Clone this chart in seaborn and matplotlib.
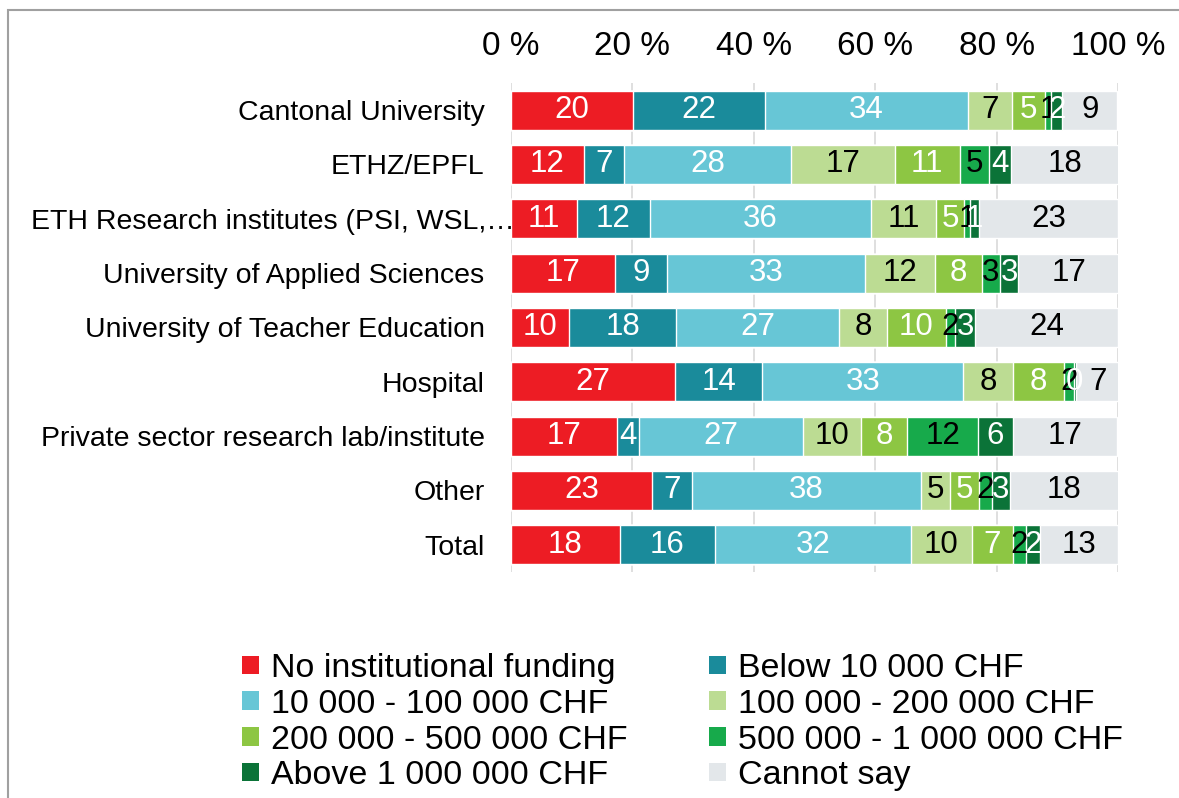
import matplotlib
matplotlib.use("Agg")
import matplotlib.pyplot as plt
from matplotlib.patches import Rectangle, Patch
from matplotlib.transforms import ScaledTranslation
import seaborn as sns
import numpy as np

# Dados (percentagens)
categories = ["Cantonal University", "ETHZ/EPFL", "ETH Research institutes (PSI, WSL,\u2026",
              "University of Applied Sciences", "University of Teacher Education", "Hospital",
              "Private sector research lab/institute", "Other", "Total"]

no_funding = [20.1, 12.0, 10.8, 17.1, 9.6, 27.0, 17.4, 23.2, 17.9]
below_10k = [21.7, 6.6, 12.1, 8.6, 17.6, 14.4, 3.7, 6.6, 15.7]
k10_100k = [33.5, 27.6, 36.4, 32.6, 26.8, 33.1, 27.0, 37.7, 32.3]
k100_200k = [7.3, 17.0, 10.7, 11.5, 8.0, 8.2, 9.6, 4.8, 10.0]
k200_500k = [5.3, 10.7, 4.7, 7.8, 9.6, 8.4, 7.6, 4.8, 6.8]
k500k_1m = [1.1, 4.8, 1.0, 2.9, 1.6, 1.6, 11.6, 2.1, 2.1]
above_1m = [1.8, 3.6, 1.4, 3.1, 3.2, 0.4, 5.8, 3.0, 2.3]
cannot_say = [9.1, 17.9, 22.9, 16.6, 23.6, 7.1, 17.2, 17.9, 12.9]

series_names = ["No institutional funding", "Below 10 000 CHF", "10 000 - 100 000 CHF",
                "100 000 - 200 000 CHF", "200 000 - 500 000 CHF", "500 000 - 1 000 000 CHF",
                "Above 1 000 000 CHF", "Cannot say"]
series = [no_funding, below_10k, k10_100k, k100_200k, k200_500k, k500k_1m, above_1m, cannot_say]
colors = ["#ED1C24", "#1A8B9B", "#67C6D6", "#BCDC93", "#8DC643", "#17AA4B", "#0B7338", "#E3E7EA"]
text_colors = ["white", "white", "white", "black", "white", "black", "white", "black"]
xticks = [0, 20, 40, 60, 80, 100]

sns.set_theme(style="white")
plt.rcParams["font.family"] = ["Liberation Sans", "DejaVu Sans"]
plt.rcParams["text.color"] = "black"
plt.rcParams["xtick.color"] = "black"
plt.rcParams["ytick.color"] = "black"

fig = plt.figure(figsize=(11.79, 7.98), dpi=100)
ax = fig.add_axes([511 / 1179, 1 - 572 / 798, (1118 - 511) / 1179, (572 - 83) / 798])

# Barras empilhadas: desenha as somas acumuladas da maior para a menor
cum = np.cumsum(np.array(series), axis=0)
for i in range(len(series) - 1, -1, -1):
    sns.barplot(x=cum[i], y=categories, orient="h", color=colors[i], saturation=1,
                width=0.72, ax=ax, zorder=2)

# Rotulos dentro dos segmentos
for i, vals in enumerate(series):
    for j, v in enumerate(vals):
        x = cum[i][j] - v / 2
        ax.text(x, j, f"{v:.0f}", ha="center", va="center", color=text_colors[i],
                fontsize=22.5, zorder=3)

ax.set_xlim(0, 100)
ax.set_ylim(8.5, -0.5)
ax.xaxis.tick_top()
ax.set_xticks(xticks)
ax.set_xticklabels([f"{t} %" for t in xticks], fontsize=24)
ax.tick_params(axis="x", length=0, pad=15)
ax.tick_params(axis="y", length=0, pad=19, labelsize=20.5)
ax.set_xlabel("")
ax.set_ylabel("")
ax.grid(axis="x", color="#D9D9D9", linewidth=1.2)
ax.set_axisbelow(True)
for s in ax.spines.values():
    s.set_visible(False)

# rotulo longo encostado na barra, como no original
lab = ax.get_yticklabels()[2]
lab.set_transform(lab.get_transform() + ScaledTranslation(30 / 100, 0, fig.dpi_scale_trans))

# Legenda (preenchida por linhas)
order = [0, 2, 4, 6, 1, 3, 5, 7]
handles = [Patch(facecolor=colors[k], edgecolor="none") for k in order]
labels = [series_names[k] for k in order]
fig.legend(handles, labels, loc="upper left", bbox_to_anchor=(242 / 1179, 1 - 653 / 798),
           ncol=2, frameon=False, fontsize=24.5, handlelength=0.5, handleheight=0.45,
           handletextpad=0.35, labelspacing=0.14, columnspacing=2.4, borderaxespad=0,
           borderpad=0)

# Moldura da area do grafico
fig.add_artist(Rectangle((8 / 1179, -0.1), 1.2, 1 - 10 / 798 + 0.1, transform=fig.transFigure,
                         fill=False, edgecolor="#A0A0A0", linewidth=1.5))

plt.savefig("out.png", dpi=100)
